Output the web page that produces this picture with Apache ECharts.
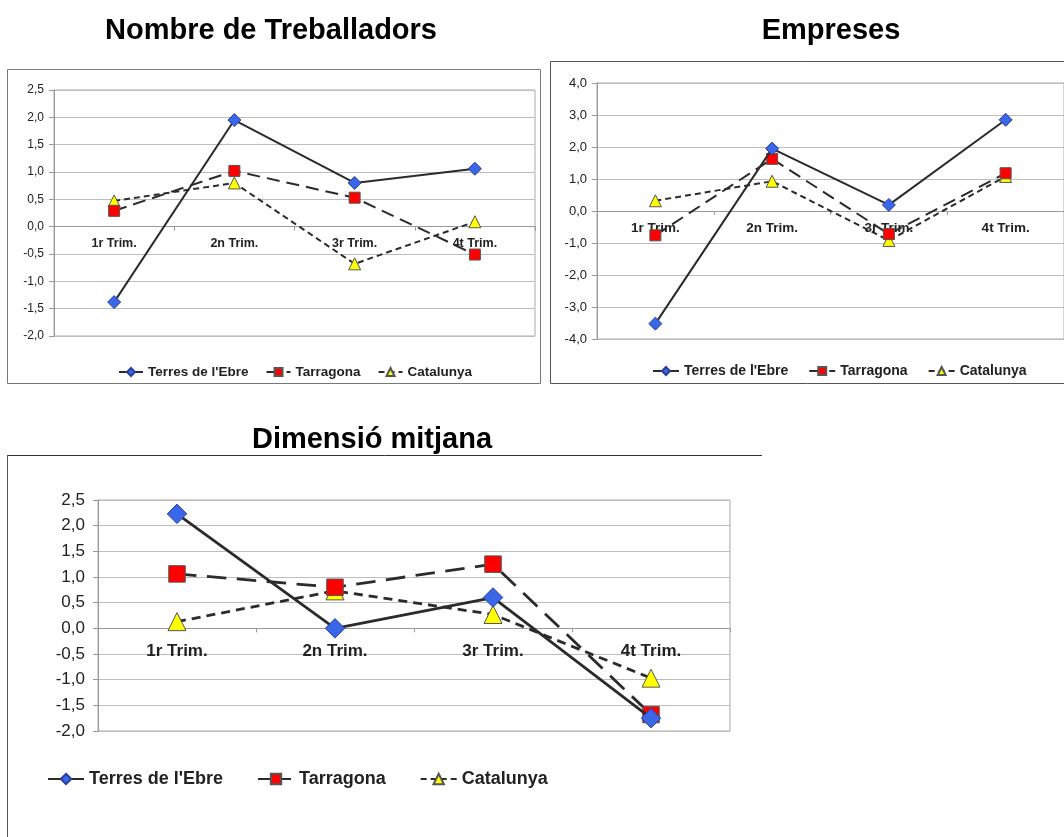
<!DOCTYPE html>
<html>
<head>
<meta charset="utf-8">
<script src="https://cdn.jsdelivr.net/npm/echarts@6/dist/echarts.min.js"></script>
<style>
html,body{margin:0;padding:0;background:#fff;}
#c{width:1064px;height:837px;}
</style>
</head>
<body>
<div id="c"></div>
<script>
var categories = ['1r Trim.', '2n Trim.', '3r Trim.', '4t Trim.'];
var seriesNames = ["Terres de l'Ebre", 'Tarragona', 'Catalunya'];
var chartTitles = ['Nombre de Treballadors', 'Empreses', 'Dimensió mitjana'];

var treballadorsTerres = [-1.38, 1.95, 0.80, 1.06];
var treballadorsTarragona = [0.29, 1.02, 0.53, -0.51];
var treballadorsCatalunya = [0.47, 0.80, -0.68, 0.09];

var empresesTerres = [-3.52, 1.95, 0.19, 2.85];
var empresesTarragona = [-0.76, 1.63, -0.72, 1.18];
var empresesCatalunya = [0.32, 0.93, -0.92, 1.08];

var dimensioTerres = [2.23, 0.00, 0.60, -1.75];
var dimensioTarragona = [1.06, 0.80, 1.25, -1.68];
var dimensioCatalunya = [0.13, 0.73, 0.27, -0.97];

var chart = echarts.init(document.getElementById('c'), null, {renderer: 'canvas'});
var FONT = 'Liberation Sans, Arial, sans-serif';

function fmt(v){ return v.toFixed(1).replace('.', ','); }

var grids = [
  {left: 54, top: 90, width: 481, height: 246},
  {left: 597, top: 83, width: 475, height: 256},
  {left: 98, top: 500, width: 632, height: 231}
];
var yRanges = [[-2, 2.5, 0.5], [-4, 4, 1], [-2, 2.5, 0.5]];

function makeSeries(idx, data, s, lw){
  return [
    {
      name: seriesNames[0], type: 'line', xAxisIndex: idx, yAxisIndex: idx, data: data[0],
      symbol: 'diamond', symbolSize: 13*s, z: 5,
      lineStyle: {color: '#2b2b2b', width: lw, type: 'solid'},
      itemStyle: {color: '#3a66e8', borderColor: '#2a3f9a', borderWidth: 1}
    },
    {
      name: seriesNames[1], type: 'line', xAxisIndex: idx, yAxisIndex: idx, data: data[1],
      symbol: 'rect', symbolSize: 11*s, z: 4,
      lineStyle: {color: '#2b2b2b', width: lw, type: [13*s, 7*s]},
      itemStyle: {color: '#ff0000', borderColor: '#555', borderWidth: 1}
    },
    {
      name: seriesNames[2], type: 'line', xAxisIndex: idx, yAxisIndex: idx, data: data[2],
      symbol: 'triangle', symbolSize: 12*s, z: 3,
      lineStyle: {color: '#2b2b2b', width: lw, type: [6*s, 4*s]},
      itemStyle: {color: '#ffff00', borderColor: '#555', borderWidth: 1}
    }
  ];
}

function makeX(idx, fs, margin){
  var r = yRanges[idx];
  var zeroOffset = -grids[idx].height * (0 - r[0]) / (r[1] - r[0]);
  return {
    gridIndex: idx, type: 'category', data: categories, boundaryGap: true,
    position: 'bottom', offset: zeroOffset,
    axisLine: {onZero: false, lineStyle: {color: '#999', width: 1}},
    axisTick: {show: true, length: 4, inside: false, lineStyle: {color: '#999'}},
    axisLabel: {fontFamily: FONT, fontSize: fs, fontWeight: 'bold', color: '#222', margin: margin},
    splitLine: {show: false}
  };
}
function makeY(idx, fs, margin){
  var r = yRanges[idx];
  return {
    gridIndex: idx, type: 'value', min: r[0], max: r[1], interval: r[2],
    axisLine: {show: true, lineStyle: {color: '#999'}},
    axisTick: {show: true, length: 5, lineStyle: {color: '#999'}},
    axisLabel: {fontFamily: FONT, fontSize: fs, color: '#222', margin: margin, formatter: fmt},
    splitLine: {show: true, lineStyle: {color: '#bdbdbd', width: 1}}
  };
}

var option = {
  backgroundColor: '#fff',
  animation: false,
  title: [
    {text: chartTitles[0], left: 266, top: 11, textAlign: 'center',
     textStyle: {fontFamily: FONT, fontSize: 29, fontWeight: 'bold', color: '#000'}},
    {text: chartTitles[1], left: 826, top: 11, textAlign: 'center',
     textStyle: {fontFamily: FONT, fontSize: 29, fontWeight: 'bold', color: '#000'}},
    {text: chartTitles[2], left: 367, top: 420, textAlign: 'center',
     textStyle: {fontFamily: FONT, fontSize: 29, fontWeight: 'bold', color: '#000'}}
  ],
  graphic: [
    {type: 'rect', shape: {x: 7.5, y: 69.5, width: 533, height: 314}, style: {fill: null, stroke: '#777', lineWidth: 1}, silent: true},
    {type: 'rect', shape: {x: 550.5, y: 61.5, width: 530, height: 322}, style: {fill: null, stroke: '#555', lineWidth: 1}, silent: true},
    {type: 'line', shape: {x1: 7, y1: 455.5, x2: 762, y2: 455.5}, style: {stroke: '#333', lineWidth: 1}, silent: true},
    {type: 'line', shape: {x1: 7.5, y1: 455, x2: 7.5, y2: 837}, style: {stroke: '#555', lineWidth: 1}, silent: true}
  ],
  legend: [
    {data: seriesNames, left: 113, top: 360, itemWidth: 24, itemHeight: 10, itemGap: 17,
     textStyle: {fontFamily: FONT, fontSize: 13.5, fontWeight: 'bold', color: '#222'}},
    {data: seriesNames, left: 647, top: 359, itemWidth: 26, itemHeight: 10, itemGap: 20,
     textStyle: {fontFamily: FONT, fontSize: 14, fontWeight: 'bold', color: '#222'}},
    {data: seriesNames, left: 42, top: 765, itemWidth: 36, itemHeight: 13, itemGap: 34,
     textStyle: {fontFamily: FONT, fontSize: 18, fontWeight: 'bold', color: '#222'}}
  ],
  grid: grids.map(function(g){
    return {left: g.left, top: g.top, width: g.width, height: g.height, show: true,
            borderColor: '#aaa', borderWidth: 1, backgroundColor: 'transparent'};
  }),
  xAxis: [makeX(0, 12.5, 10), makeX(1, 13.5, 10), makeX(2, 17, 14)],
  yAxis: [makeY(0, 12, 10), makeY(1, 13, 10), makeY(2, 17, 13)],
  series: []
    .concat(makeSeries(0, [treballadorsTerres, treballadorsTarragona, treballadorsCatalunya], 1, 2))
    .concat(makeSeries(1, [empresesTerres, empresesTarragona, empresesCatalunya], 1, 2))
    .concat(makeSeries(2, [dimensioTerres, dimensioTarragona, dimensioCatalunya], 1.5, 2.8))
};
chart.setOption(option);
</script>
</body>
</html>
